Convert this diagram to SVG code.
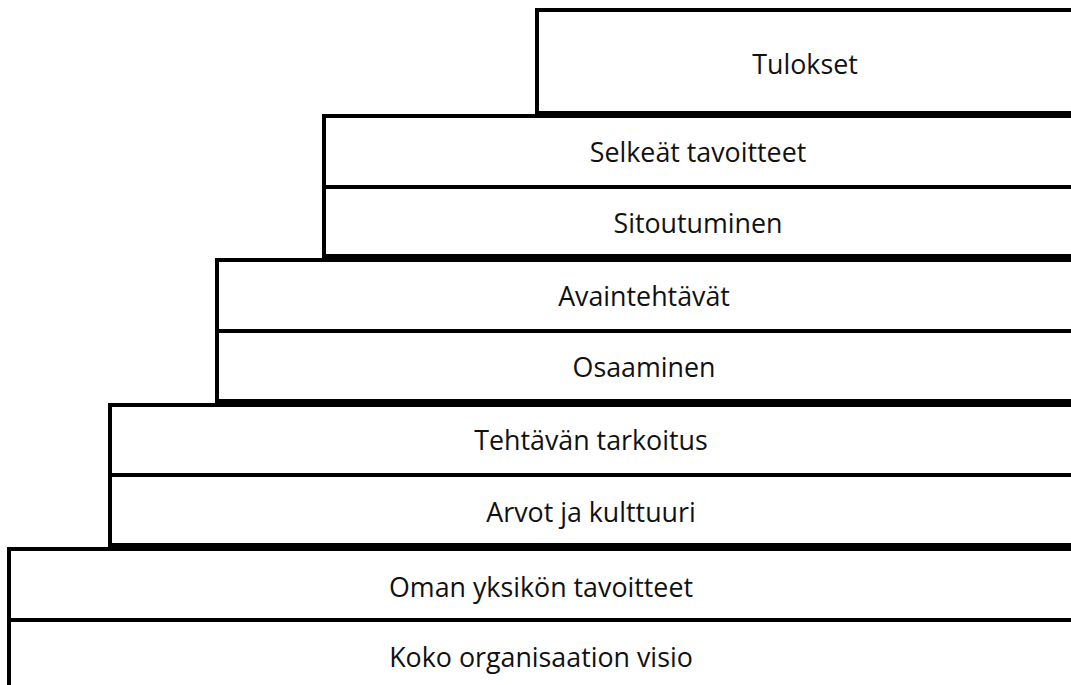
<svg xmlns="http://www.w3.org/2000/svg" width="1071" height="685" viewBox="0 0 1071 685">
<style>
.b{fill:#fff;stroke:#000;stroke-width:4}
.l{stroke:#000;stroke-width:4}
text{font-family:"Open Sans","Noto Sans","DejaVu Sans",sans-serif;font-size:26.8px;fill:#111;text-anchor:middle}
</style>
<rect width="1071" height="685" fill="#fff"/>
<g id="step1">
<rect class="b" x="537" y="10" width="560" height="103"/>
<text x="805" y="74">Tulokset</text>
</g>
<g id="step2">
<rect class="b" x="324" y="116" width="780" height="140"/>
<line class="l" x1="324" y1="187" x2="1090" y2="187"/>
<text x="698" y="162">Selkeät tavoitteet</text>
<text x="698" y="233">Sitoutuminen</text>
</g>
<g id="step3">
<rect class="b" x="217" y="260" width="880" height="141"/>
<line class="l" x1="217" y1="331" x2="1090" y2="331"/>
<text x="644" y="306">Avaintehtävät</text>
<text x="644" y="377">Osaaminen</text>
</g>
<g id="step4">
<rect class="b" x="110" y="405" width="990" height="140"/>
<line class="l" x1="110" y1="475" x2="1090" y2="475"/>
<text x="591" y="450">Tehtävän tarkoitus</text>
<text x="591" y="522">Arvot ja kulttuuri</text>
</g>
<g id="step5">
<rect class="b" x="9" y="549" width="1090" height="160"/>
<line class="l" x1="9" y1="620" x2="1090" y2="620"/>
<text x="541" y="597">Oman yksikön tavoitteet</text>
<text x="541" y="667">Koko organisaation visio</text>
</g>
<g id="connectors"/>
</svg>
